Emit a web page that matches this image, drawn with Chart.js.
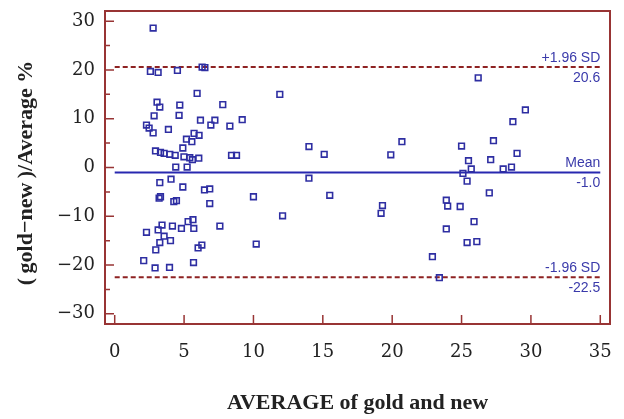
<!DOCTYPE html>
<html>
<head>
<meta charset="utf-8">
<title>Bland-Altman gold vs new</title>
<script src="https://cdn.jsdelivr.net/npm/chart.js@4.4.1/dist/chart.umd.min.js"></script>
<style>
  html, body { margin: 0; padding: 0; background: #fff; }
  #wrap { width: 624px; height: 419px; }
</style>
</head>
<body>
<div id="wrap"><canvas id="grafico" width="624" height="419"></canvas></div>
<script>
// ==================== DATOS ====================
const avgValues = [
  2.77, 2.57, 3.13, 4.52, 6.3, 6.5, 5.94, 11.9, 3.05, 3.25,
  4.69, 7.79, 2.84, 4.64, 6.18, 7.22, 6.93, 8.30, 9.19, 2.29,
  2.48, 2.77, 3.87, 5.72, 6.08, 5.17, 5.56, 4.91, 2.94, 3.30,
  3.56, 3.97, 4.36, 4.99, 5.41, 5.6, 6.06, 8.42, 8.78, 4.40,
  5.22, 3.25, 4.06, 4.91, 6.47, 6.85, 10.0, 3.2, 3.3, 4.26,
  4.45, 6.85, 5.64, 5.29, 3.41, 4.16, 4.81, 5.70, 7.58, 2.29,
  3.13, 3.56, 4.02, 3.25, 2.96, 6.28, 6.01, 10.2, 2.09, 2.91,
  3.95, 5.68, 12.1,
  14.0, 15.1, 19.9, 20.7, 14.0, 15.5, 19.3, 19.2,
  26.2, 29.6, 28.7, 25.0, 27.3, 29.0, 25.5, 27.1, 25.7, 28.0,
  28.6, 25.1, 25.4, 27.0, 23.9, 24.0, 24.9, 25.9, 23.9, 25.4,
  26.1, 22.9, 23.4
];
const diffPct = [
  28.6, 19.7, 19.5, 19.9, 20.6, 20.5, 15.2, 15.0, 13.4, 12.4,
  12.8, 12.9, 10.6, 10.7, 9.7, 9.7, 8.7, 8.5, 9.8, 8.7,
  8.1, 7.1, 7.8, 7.0, 6.6, 5.8, 5.3, 4.0, 3.4, 3.1,
  2.9, 2.7, 2.5, 2.2, 2.0, 1.6, 1.9, 2.5, 2.5, 0.1,
  0.1, -3.1, -2.4, -4.0, -4.6, -4.4, -6.0, -6.3, -6.0, -7.0,
  -6.8, -7.4, -10.7, -11.1, -11.8, -12.0, -12.5, -12.5, -12.0, -13.3,
  -12.8, -14.1, -15.0, -15.4, -16.9, -15.9, -16.5, -15.7, -19.1, -20.6,
  -20.5, -19.5, -9.9,
  4.3, 2.7, 2.6, 5.3, -2.2, -5.7, -7.8, -9.4,
  18.4, 11.8, 9.4, 4.4, 5.5, 2.9, 1.4, 1.6, -0.3, -0.3,
  0.1, -1.2, -2.8, -5.2, -6.7, -7.9, -8.0, -11.1, -12.6, -15.4,
  -15.2, -18.3, -22.6
];
const meanDiff = -1.0;
const upperLoA = 20.6;
const lowerLoA = -22.5;
const lineRange = [0, 35];
const xTicks = [0, 5, 10, 15, 20, 25, 30, 35];
const yTicks = [-30, -20, -10, 0, 10, 20, 30];
const yMinorTicks = [-25, -15, -5, 5, 15, 25];

// ==================== COLORES ====================
const colorMarco = '#983434';
const colorPuntos = '#2e2ea2';
const colorTexto = '#3a3aaa';

const puntos = avgValues.map((x, i) => ({ x: x, y: diffPct[i] }));
const lineaH = (v) => lineRange.map(x => ({ x: x, y: v }));

// quitar el relleno automatico que Chart.js deja para las etiquetas
function sinRelleno(s) {
  s.paddingTop = 0;
  s.paddingBottom = 0;
  s.paddingLeft = 0;
  s.paddingRight = 0;
}

// ==================== MARCO, TICKS Y ETIQUETAS ====================
const marcoPlugin = {
  id: 'marco',
  afterDatasetsDraw(chart) {
    const { ctx, chartArea: a, scales: { x, y } } = chart;
    ctx.save();
    ctx.strokeStyle = colorMarco;
    ctx.lineWidth = 2;
    ctx.strokeRect(a.left, a.top, a.right - a.left, a.bottom - a.top);
    ctx.lineWidth = 1.5;
    ctx.beginPath();
    yTicks.forEach(v => {
      const py = y.getPixelForValue(v);
      ctx.moveTo(a.left, py); ctx.lineTo(a.left + 9, py);
    });
    yMinorTicks.forEach(v => {
      const py = y.getPixelForValue(v);
      ctx.moveTo(a.left, py); ctx.lineTo(a.left + 5, py);
    });
    xTicks.forEach(v => {
      const px = x.getPixelForValue(v);
      ctx.moveTo(px, a.bottom); ctx.lineTo(px, a.bottom - 9);
    });
    ctx.stroke();

    // etiquetas de las lineas de referencia
    const xr = x.getPixelForValue(lineRange[1]);
    ctx.fillStyle = colorTexto;
    ctx.font = '14px "Liberation Sans", Arial, sans-serif';
    ctx.textAlign = 'right';
    const etiquetas = [
      [upperLoA, '+1.96 SD', upperLoA.toFixed(1)],
      [meanDiff, 'Mean', meanDiff.toFixed(1)],
      [lowerLoA, '-1.96 SD', lowerLoA.toFixed(1)]
    ];
    etiquetas.forEach(([v, arriba, abajo]) => {
      const py = y.getPixelForValue(v);
      ctx.textBaseline = 'bottom';
      ctx.fillText(arriba, xr, py - 2);
      ctx.textBaseline = 'top';
      ctx.fillText(abajo, xr, py + 4);
    });
    ctx.restore();
  }
};

// ==================== GRAFICO ====================
const ctx = document.getElementById('grafico');
new Chart(ctx, {
  type: 'scatter',
  data: {
    datasets: [
      {
        label: 'Datos',
        data: puntos,
        pointStyle: 'rect',
        pointRadius: 4,
        pointHoverRadius: 4,
        borderColor: colorPuntos,
        backgroundColor: 'rgba(0,0,0,0)',
        pointBorderWidth: 1.6,
        order: 0
      },
      {
        type: 'line',
        label: 'Mean',
        data: lineaH(meanDiff),
        borderColor: '#2828b0',
        borderWidth: 2,
        pointRadius: 0,
        order: 1
      },
      {
        type: 'line',
        label: '+1.96 SD',
        data: lineaH(upperLoA),
        borderColor: '#8e2222',
        borderWidth: 2,
        borderDash: [5, 3],
        pointRadius: 0,
        order: 1
      },
      {
        type: 'line',
        label: '-1.96 SD',
        data: lineaH(lowerLoA),
        borderColor: '#8e2222',
        borderWidth: 2,
        borderDash: [5, 3],
        pointRadius: 0,
        order: 1
      }
    ]
  },
  options: {
    responsive: false,
    animation: false,
    layout: { padding: { top: 11, right: 14, left: 0, bottom: 0 } },
    plugins: {
      legend: { display: false },
      tooltip: { enabled: false }
    },
    scales: {
      x: {
        type: 'linear',
        min: -0.7,
        max: 35.7,
        afterBuildTicks: s => { s.ticks = xTicks.map(v => ({ value: v })); },
        afterFit: s => { s.height = 95; sinRelleno(s); },
        grid: { display: false, drawTicks: false },
        border: { display: false },
        ticks: {
          autoSkip: false,
          maxRotation: 0,
          padding: 18,
          color: '#222',
          font: { family: '"DejaVu Serif", serif', size: 18 }
        },
        title: {
          display: true,
          text: 'AVERAGE of gold and new',
          color: '#222',
          padding: { top: 0, bottom: 2 },
          font: { family: '"Liberation Serif", "Times New Roman", serif', size: 22, weight: 'bold' }
        }
      },
      y: {
        type: 'linear',
        min: -32.1,
        max: 32.1,
        afterBuildTicks: s => { s.ticks = yTicks.map(v => ({ value: v })); },
        afterFit: s => { s.width = 105; sinRelleno(s); },
        grid: { display: false, drawTicks: false },
        border: { display: false },
        ticks: {
          autoSkip: false,
          padding: 10,
          color: '#222',
          font: { family: '"DejaVu Serif", serif', size: 18 },
          callback: v => (v < 0 ? '\u2212' + Math.abs(v) : String(v))
        },
        title: {
          display: true,
          text: '(\u2009gold\u2212new\u2009)/Average %\u00a0\u00a0',
          color: '#222',
          padding: { top: 13, bottom: 0 },
          font: { family: '"Liberation Serif", "Times New Roman", serif', size: 22, weight: 'bold' }
        }
      }
    }
  },
  plugins: [marcoPlugin]
});
</script>
</body>
</html>
